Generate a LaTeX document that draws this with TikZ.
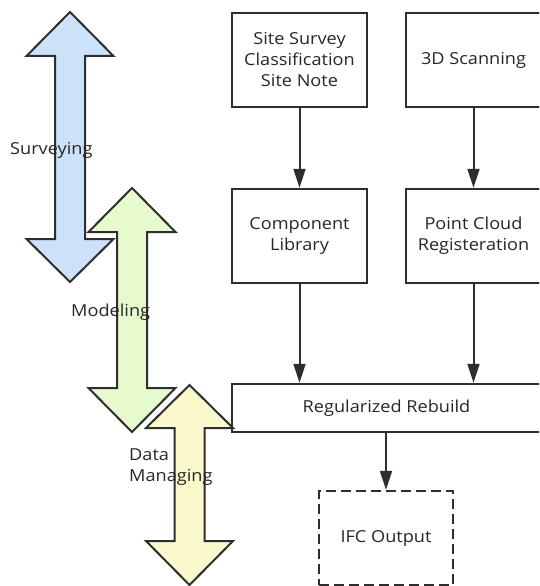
\documentclass[tikz,border=0pt]{standalone}
\usepackage{fontspec}
\setmainfont{Open Sans}[FakeStretch=1.1]
\usetikzlibrary{arrows.meta}
\definecolor{ink}{HTML}{2E2E2E}
\definecolor{txt}{HTML}{262626}
\definecolor{fblue}{HTML}{CCE2FA}
\definecolor{fgreen}{HTML}{E6FACE}
\definecolor{fyellow}{HTML}{FAFACD}
\newcommand\dblarrowshape[6]{%
  \draw[bigarrow, fill=#1] (#2,#3) -- (#2+43.5,#4) -- (#2+15,#4) -- (#2+15,#5) -- (#2+43.5,#5) -- (#2,#6) -- (#2-43.5,#5) -- (#2-15,#5) -- (#2-15,#4) -- (#2-43.5,#4) -- cycle;}
\begin{document}
\begin{tikzpicture}[x=1pt,y=-1pt,
  every node/.style={text=txt, font=\fontsize{16.5}{21}\selectfont},
  bigarrow/.style={draw=ink, line width=2pt, line join=miter},
  stepbox/.style={draw=ink, line width=2.4pt, minimum width=135pt, minimum height=94pt, inner sep=0pt, align=center},
  widebox/.style={draw=ink, line width=2.4pt, minimum width=309pt, minimum height=48pt, inner sep=0pt, align=center},
  dashbox/.style={draw=ink, line width=2.4pt, dash pattern=on 10pt off 5pt, minimum width=134pt, minimum height=94pt, inner sep=0pt, align=center},
  flow/.style={draw=ink, line width=2pt, -{Triangle[length=19pt,width=12pt]}},
  lbl/.style={anchor=base west, align=left, inner sep=0pt}]
\useasboundingbox (0,0) rectangle (539,586);
\clip (0,0) rectangle (539,586);

% phase arrows
\dblarrowshape{fblue}{70}{12}{56}{239}{282}
\dblarrowshape{fgreen}{132}{188}{232}{388}{432}
\dblarrowshape{fyellow}{189.5}{385}{428}{541}{585}

\node[lbl] (surv) at (10,154) {Surveying};
\node[lbl] (model) at (71,316) {Modeling};
\node[lbl] (data) at (129,481) {Data\\Managing};

% boxes
\node[stepbox] (site) at (299.5,60) {Site Survey\\Classification\\Site Note};
\node[stepbox] (scan) at (473.5,60) {3D Scanning};
\node[stepbox] (comp) at (299.5,236) {Component\\Library};
\node[stepbox] (cloud) at (473.5,236) {Point Cloud\\Registeration};
\node[widebox] (rebuild) at (386.5,408) {Regularized Rebuild};
\node[dashbox] (ifc) at (386,538) {IFC Output};

% connectors
\draw[flow] (site.south) -- (comp.north);
\draw[flow] (scan.south) -- (cloud.north);
\draw[flow] (comp.south) -- (comp.south |- rebuild.north);
\draw[flow] (cloud.south) -- (cloud.south |- rebuild.north);
\draw[flow] (rebuild.south -| ifc.north) -- (ifc.north);
\end{tikzpicture}
\end{document}
